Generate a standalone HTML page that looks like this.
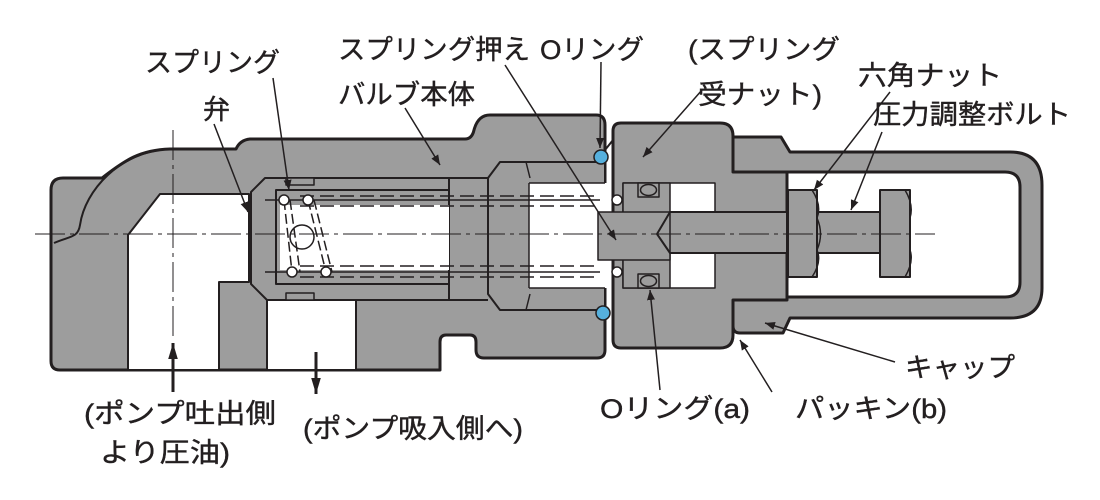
<!DOCTYPE html>
<html><head><meta charset="utf-8"><style>
html,body{margin:0;padding:0;background:#fff;}
svg{display:block;}
text{font-family:"Liberation Sans","Noto Sans CJK JP",sans-serif;font-size:27px;fill:#231f20;stroke:#231f20;stroke-width:0.4;}
</style></head><body>
<svg width="1100" height="500" viewBox="0 0 1100 500" xmlns="http://www.w3.org/2000/svg">
<defs><marker id="ah" viewBox="0 0 10 10" refX="10" refY="5" markerWidth="10" markerHeight="10" orient="auto-start-reverse" markerUnits="userSpaceOnUse"><path d="M0,1 L10,5 L0,9 z" fill="#231f20"/></marker>
<marker id="ah2" viewBox="0 0 10 10" refX="10" refY="5" markerWidth="16" markerHeight="16" orient="auto-start-reverse" markerUnits="userSpaceOnUse"><path d="M0,2 L10,5 L0,8 z" fill="#231f20"/></marker></defs>
<g stroke="#231f20" stroke-linejoin="round">
<!-- cap -->
<path d="M733,137 L781,137 L790,152 L1010,152 Q1042,152 1042,185 L1042,288 Q1042,318 1010,318 L790,318 L783,333 L740,333 Q733,333 733,326 Z M787,172 L787,297 L1005,297 Q1020,297 1020,282 L1020,187 Q1020,172 1005,172 Z" fill="#9d9d9d" fill-rule="evenodd" stroke-width="3"/>
<!-- main body -->
<path d="M51,190 Q51,178 63,178 L102,178 C125,160 140,150 170,149 L236,149 Q240,140 250,139 L465,139 Q472,139 474,130 Q478,115 490,115 L596,115 Q605,115 605,125 L605,155 L605,310 L605,350 Q605,358 597,358 L484,358 Q476,358 476,350 L476,342 Q476,335 470,335 L446,335 Q440,335 440,342 L440,370 L60,370 Q51,370 51,361 Z" fill="#9d9d9d" stroke-width="3"/>
<path d="M54,243 C70,236 78,238 80,225 C85,190 120,152 168,149" fill="none" stroke-width="2"/>
<!-- white passages -->
<path d="M128,235 L160,194 L249,194 L249,282 L219,282 L219,370 L128,370 Z" fill="#fff" stroke-width="2"/>
<rect x="267" y="300" width="89" height="70" fill="#fff" stroke-width="2"/>
<!-- valve bore -->
<path d="M265,178 L449,178 L449,300 L267,300 L251,284 L251,192 Z" fill="#9d9d9d" stroke-width="2"/>
<rect x="276" y="190" width="173" height="94" fill="#9d9d9d" stroke-width="2"/>
<rect x="280" y="205" width="169" height="65" fill="#fff" stroke="none"/>
<rect x="286" y="178" width="28" height="7" fill="#9d9d9d" stroke-width="1.5"/>
<rect x="286" y="293" width="28" height="7" fill="#9d9d9d" stroke-width="1.5"/>
<line x1="449" y1="178" x2="488" y2="178" stroke-width="2"/>
<line x1="449" y1="300" x2="488" y2="300" stroke-width="2"/>
<!-- spring seat -->
<path d="M488,178 L500,162 L605,162 L605,310 L500,310 L488,294 Z" fill="#9d9d9d" stroke-width="2"/>
<line x1="526" y1="162" x2="530" y2="178" stroke-width="1.5"/>
<line x1="526" y1="310" x2="530" y2="294" stroke-width="1.5"/>
<line x1="488" y1="178" x2="488" y2="294" stroke-width="2"/>
<rect x="529" y="183" width="94" height="105" fill="#fff" stroke="none"/>
<line x1="529" y1="183" x2="529" y2="288" stroke-width="1.5"/>
<line x1="529" y1="183" x2="605" y2="183" stroke-width="1.5"/>
<line x1="529" y1="288" x2="605" y2="288" stroke-width="1.5"/>
<!-- nut -->
<path d="M613,131 Q613,123 621,123 L720,123 Q733,123 733,136 L733,172 L787,172 L787,300 L733,300 L733,335 Q733,348 720,348 L621,348 Q613,348 613,340 Z" fill="#9d9d9d" stroke-width="3"/>
<path d="M605,150 L613,140" stroke-width="2" fill="none"/>
<rect x="623" y="183" width="92" height="105" fill="#fff" stroke-width="1.5"/>
<rect x="623" y="183" width="47" height="105" fill="#9d9d9d" stroke-width="1.5"/>
<rect x="598" y="212" width="72" height="48" fill="#9d9d9d" stroke-width="1.5"/>
<rect x="638" y="183" width="21" height="14" fill="#9d9d9d" stroke-width="1.5"/>
<ellipse cx="648.5" cy="190" rx="8" ry="5.5" fill="#9d9d9d" stroke-width="1.5"/>
<rect x="638" y="274" width="21" height="14" fill="#9d9d9d" stroke-width="1.5"/>
<ellipse cx="648.5" cy="281" rx="8" ry="5.5" fill="#9d9d9d" stroke-width="1.5"/>
<!-- bolt -->
<path d="M670,212 L880,212 L880,253 L670,253 L657,234 Z" fill="#9d9d9d" stroke-width="2"/>
<line x1="670" y1="212" x2="670" y2="253" stroke-width="1.5"/>
<rect x="788" y="190" width="29" height="87" fill="#9d9d9d" stroke-width="2"/>
<path d="M812,190 Q822,205 817,218 M812,277 Q822,262 817,250 M817,218 Q824,234 817,250" fill="none" stroke-width="1.5"/>
<rect x="880" y="190" width="30" height="87" fill="#9d9d9d" stroke-width="2"/>
<path d="M905,190 Q914,205 910,218 M905,277 Q914,262 910,250" fill="none" stroke-width="1.5"/>
<line x1="787" y1="172" x2="787" y2="300" stroke-width="2"/>
<!-- spring -->
<g stroke-width="1.5" fill="none">
<line x1="265" y1="200" x2="600" y2="200"/>
<line x1="265" y1="272" x2="600" y2="272"/>
<line x1="300" y1="196" x2="600" y2="196" stroke-dasharray="14,6"/>
<line x1="300" y1="206" x2="600" y2="206" stroke-dasharray="14,6"/>
<line x1="300" y1="266" x2="600" y2="266" stroke-dasharray="14,6"/>
<line x1="300" y1="277" x2="600" y2="277" stroke-dasharray="14,6"/>
<line x1="284" y1="200" x2="292" y2="272" stroke-dasharray="10,4"/>
<line x1="308" y1="200" x2="326" y2="272" stroke-dasharray="10,4"/>
<line x1="290" y1="200" x2="300" y2="272" stroke-dasharray="10,4"/>
<line x1="314" y1="200" x2="332" y2="272" stroke-dasharray="10,4"/>
</g>
<g fill="#fff" stroke-width="1.5">
<circle cx="284" cy="200" r="5"/><circle cx="308" cy="200" r="5"/>
<circle cx="292" cy="272" r="5"/><circle cx="326" cy="272" r="5"/>
<circle cx="617" cy="200" r="5"/><circle cx="617" cy="272" r="5"/>
</g>
<circle cx="302" cy="237" r="12" fill="none" stroke-width="1.5"/>
<!-- o-rings -->
<circle cx="601" cy="157" r="7" fill="#56b0dd" stroke-width="1.5"/>
<circle cx="603" cy="313" r="7" fill="#56b0dd" stroke-width="1.5"/>
<!-- center lines -->
<line x1="35" y1="234" x2="935" y2="234" stroke-width="1" stroke-dasharray="30,5,4,5"/>
<line x1="173" y1="130" x2="173" y2="340" stroke-width="1" stroke-dasharray="30,5,4,5"/>
<!-- flow arrows -->
<line x1="173" y1="392" x2="173" y2="343" stroke-width="3" marker-end="url(#ah2)"/>
<line x1="316" y1="352" x2="316" y2="394" stroke-width="3" marker-end="url(#ah2)"/>
<!-- leaders -->
<g stroke-width="1.5" marker-end="url(#ah)">
<line x1="273" y1="78" x2="289" y2="190"/>
<line x1="214" y1="124" x2="248" y2="212"/>
<line x1="405" y1="108" x2="440" y2="165"/>
<line x1="505" y1="65" x2="616" y2="240"/>
<line x1="601" y1="62" x2="600" y2="148"/>
<line x1="702" y1="90" x2="643" y2="157"/>
<line x1="890" y1="92" x2="814" y2="190"/>
<line x1="882" y1="132" x2="851" y2="210"/>
<line x1="895" y1="362" x2="765" y2="323"/>
<line x1="772" y1="392" x2="740" y2="340"/>
<line x1="660" y1="390" x2="650" y2="290"/>
</g>
</g>
<!-- labels -->
<g>
<text x="145" y="72" textLength="135" lengthAdjust="spacingAndGlyphs">スプリング</text>
<text x="203" y="119" textLength="27" lengthAdjust="spacingAndGlyphs">弁</text>
<text x="338" y="59" textLength="192" lengthAdjust="spacingAndGlyphs">スプリング押え</text>
<text x="338" y="104" textLength="137" lengthAdjust="spacingAndGlyphs">バルブ本体</text>
<text x="540" y="59" textLength="104" lengthAdjust="spacingAndGlyphs">Oリング</text>
<text x="688" y="59" textLength="152" lengthAdjust="spacingAndGlyphs">(スプリング</text>
<text x="698" y="104" textLength="124" lengthAdjust="spacingAndGlyphs">受ナット)</text>
<text x="858" y="85" textLength="144" lengthAdjust="spacingAndGlyphs">六角ナット</text>
<text x="873" y="124" textLength="198" lengthAdjust="spacingAndGlyphs">圧力調整ボルト</text>
<text x="905" y="377" textLength="110" lengthAdjust="spacingAndGlyphs">キャップ</text>
<text x="600" y="418" textLength="150" lengthAdjust="spacingAndGlyphs">Oリング(a)</text>
<text x="795" y="418" textLength="152" lengthAdjust="spacingAndGlyphs">パッキン(b)</text>
<text x="84" y="423" textLength="192" lengthAdjust="spacingAndGlyphs">(ポンプ吐出側</text>
<text x="100" y="462" textLength="130" lengthAdjust="spacingAndGlyphs">より圧油)</text>
<text x="303" y="438" textLength="220" lengthAdjust="spacingAndGlyphs">(ポンプ吸入側へ)</text>
</g>
</svg>
</body></html>
